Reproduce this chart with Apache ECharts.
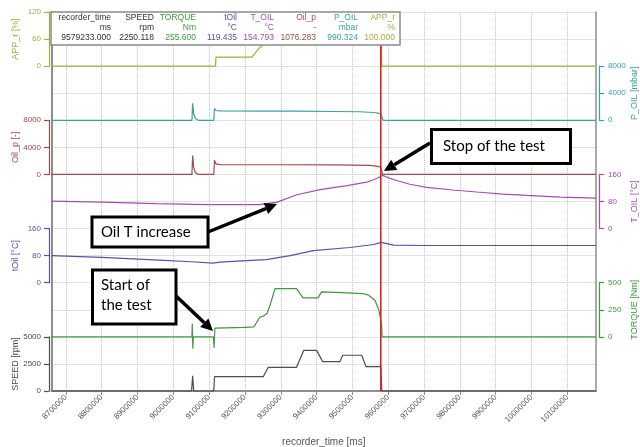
<!DOCTYPE html>
<html>
<head>
<meta charset="utf-8">
<script src="https://cdn.jsdelivr.net/npm/echarts@6/dist/echarts.min.js"></script>
<style>
  html, body { margin: 0; padding: 0; background: #fff; }
  #chart { width: 640px; height: 447px; }
</style>
</head>
<body>
<div id="chart"></div>
<script>
// recorder_time axis [ms]
const timeMin = 8660000;
const timeMax = 10180000;
const timeTicks = [8700000, 8800000, 8900000, 9000000, 9100000, 9200000, 9300000, 9400000,
  9500000, 9600000, 9700000, 9800000, 9900000, 10000000, 10100000];
const cursorTime = 9579233;

// Channel samples as [recorder_time ms, value]
const appR = [[8660000, 0], [9118000, 0], [9119000, 20], [9219000, 20], [9239000, 39], [9247000, 45],
  [9253000, 62], [9262000, 80], [9290000, 95], [9320000, 100], [9579233, 100], [9582000, 0], [10180000, 0]];

const pOil = [[8660000, 0], [9052000, 0], [9054000, 2500], [9057000, 900], [9062000, 250], [9070000, 0],
  [9113000, 0], [9115000, 1750], [9119000, 1450], [9130000, 1380], [9250000, 1360], [9350000, 1340],
  [9450000, 1300], [9520000, 1260], [9560000, 1150], [9579233, 990], [9583000, 400], [9586000, 0], [10180000, 0]];

const oilP = [[8660000, 0], [9052000, 0], [9054000, 2800], [9057000, 1000], [9062000, 250], [9070000, 0],
  [9113000, 0], [9115000, 2100], [9119000, 1550], [9130000, 1450], [9300000, 1430], [9450000, 1400],
  [9550000, 1340], [9570000, 1200], [9579233, 1076], [9582000, 500], [9584000, 0], [10180000, 0]];

const tOilUpper = [[8660000, 81], [8800000, 78], [8950000, 74], [9100000, 71], [9240000, 71], [9290000, 78],
  [9345000, 100], [9410000, 115], [9485000, 127], [9540000, 137], [9568000, 148], [9579233, 154.8],
  [9585000, 157], [9600000, 150], [9624000, 142], [9660000, 131], [9708000, 122], [9780000, 114],
  [9847000, 108], [9920000, 102], [9987000, 98], [10080000, 93], [10180000, 90]];

const tOil = [[8660000, 80], [8800000, 75], [8960000, 67], [9050000, 62], [9110000, 58], [9130000, 61],
  [9205000, 65], [9260000, 68], [9326000, 80], [9391000, 95], [9493000, 104], [9560000, 113],
  [9579233, 119.4], [9590000, 117], [9615000, 111], [9700000, 110], [10180000, 110]];

const torque = [[8660000, 0], [9052000, 0], [9053000, 120], [9054500, -110], [9056000, 0], [9112000, 0],
  [9114000, -100], [9116000, 80], [9120000, 85], [9200000, 88], [9225000, 92], [9242000, 183],
  [9252000, 192], [9262000, 218], [9270000, 292], [9284000, 446], [9344000, 446], [9362000, 360],
  [9404000, 360], [9414000, 415], [9470000, 408], [9529000, 400], [9545000, 385], [9563000, 338],
  [9574000, 245], [9579233, 255.6], [9581000, 120], [9583000, 0], [10180000, 0]];

const speed = [[8660000, 0], [9051000, 0], [9054000, 1400], [9057000, 0], [9113000, 0], [9115000, 1320],
  [9251000, 1320], [9265000, 2190], [9344000, 2190], [9364000, 3750], [9400000, 3750], [9417000, 2710],
  [9465000, 2710], [9473000, 3300], [9526000, 3300], [9538000, 2250], [9579233, 2250], [9582000, 0], [10180000, 0]];

// Axis ranges per channel (max, tick step)
const axisMax = [120, 8000, 8000, 160, 160, 500, 5000];
const axisStep = [60, 4000, 4000, 80, 80, 250, 2500];

// Cursor readout table
const readoutNames = ['recorder_time', 'SPEED', 'TORQUE', 'tOil', 'T_OIL', 'Oil_p', 'P_OIL', 'APP_r'];
const readoutUnits = ['ms', 'rpm', 'Nm', '°C', '°C', '-', 'mbar', '%'];
const readoutValues = ['9579233.000', '2250.118', '255.600', '119.435', '154.793', '1076.283', '990.324', '100.000'];

// ---- layout & styling ----
const W = 640, H = 447;
const plotTop = 12, plotBottom = 391, plotLeft = 51.5, plotRight = 596;
const bandH = (plotBottom - plotTop) / 7;
const FONT = "'Liberation Sans', Arial, sans-serif";
const gridColor = '#c4c4c4';
const frameColor = '#8e8e8e';
const plain = v => String(v);

// stacked channel bands, top to bottom
const channels = [
  { name: 'APP_r [%]',    data: appR,      color: '#a9a93e', side: 'left' },
  { name: 'P_OIL [mbar]', data: pOil,      color: '#3aa0a0', side: 'right' },
  { name: 'Oil_p [-]',    data: oilP,      color: '#a14a4a', side: 'left' },
  { name: 'T_OIL [°C]',   data: tOilUpper, color: '#a24fae', side: 'right' },
  { name: 'tOil [°C]',    data: tOil,      color: '#5454a4', side: 'left' },
  { name: 'TORQUE [Nm]',  data: torque,    color: '#3d9a3d', side: 'right' },
  { name: 'SPEED [rpm]',  data: speed,     color: '#4d4d4d', side: 'left' }
];

const grids = [{
  left: plotLeft, right: W - plotRight, top: plotTop, bottom: H - plotBottom,
  containLabel: false, outerBoundsMode: 'none'
}];
const xAxes = [{
  gridIndex: 0, type: 'value', min: timeMin, max: timeMax,
  name: 'recorder_time [ms]', nameLocation: 'middle', nameGap: 46, nameMoveOverlap: false,
  nameTextStyle: { color: '#555', fontSize: 10, fontFamily: FONT },
  axisLine: { show: true, onZero: false, lineStyle: { color: frameColor, width: 2 } },
  axisTick: { show: true, customValues: timeTicks, length: 4, lineStyle: { color: frameColor } },
  axisLabel: { customValues: timeTicks, formatter: plain, rotate: 45, margin: 5, color: '#555', fontSize: 8, fontFamily: FONT },
  splitLine: { show: true, lineStyle: { type: 'dotted', color: gridColor, width: 1 } }
}];
const yAxes = [
  {
    gridIndex: 0, type: 'value', min: 0, max: 14, interval: 1, position: 'left',
    axisLine: { show: true, lineStyle: { color: frameColor, width: 2 } },
    axisTick: { show: false }, axisLabel: { show: false },
    splitLine: { show: true, lineStyle: { type: 'dotted', color: gridColor, width: 1 } }
  },
  {
    gridIndex: 0, type: 'value', min: 0, max: 14, interval: 1, position: 'right',
    axisLine: { show: true, lineStyle: { color: frameColor, width: 1.5 } },
    axisTick: { show: false }, axisLabel: { show: false }, splitLine: { show: false }
  }
];
const series = [];

channels.forEach((ch, i) => {
  const top = plotTop + i * bandH;
  grids.push({
    left: plotLeft, right: W - plotRight, top: top, bottom: H - (top + bandH),
    containLabel: false, outerBoundsMode: 'none'
  });
  xAxes.push({ gridIndex: i + 1, type: 'value', min: timeMin, max: timeMax, show: false });
  const isLeft = ch.side === 'left';
  yAxes.push({
    gridIndex: i + 1, type: 'value', min: 0, max: axisMax[i], interval: axisStep[i],
    position: ch.side, offset: isLeft ? 2.5 : 3,
    name: ch.name, nameLocation: 'middle', nameRotate: 90, nameGap: isLeft ? 29 : 31,
    nameMoveOverlap: false,
    nameTextStyle: { color: ch.color, fontSize: 9, fontFamily: FONT },
    axisLine: { show: true, lineStyle: { color: ch.color, width: 1.2 } },
    axisTick: { show: true, length: 5, lineStyle: { color: ch.color, width: 1.2 } },
    axisLabel: { color: ch.color, fontSize: 8, fontFamily: FONT, margin: isLeft ? 8 : 9, formatter: plain },
    splitLine: { show: false }
  });
  series.push({
    type: 'line', name: ch.name, xAxisIndex: i + 1, yAxisIndex: i + 2,
    data: ch.data, symbol: 'none', showSymbol: false, clip: false, silent: true,
    lineStyle: { color: ch.color, width: 1.2 }, itemStyle: { color: ch.color }, z: 3
  });
});

// cursor line at the readout time
series.push({
  type: 'line', xAxisIndex: 0, yAxisIndex: 0, symbol: 'none', silent: true,
  data: [[cursorTime, 0], [cursorTime, 14]],
  lineStyle: { color: '#e02222', width: 1.6 }, z: 5
});

// ---- graphics: readout table and annotations ----
const readoutColors = ['#333', '#333', '#3d9a3d', '#5454a4', '#a24fae', '#a14a4a', '#3aa0a0', '#a9a93e'];
const readoutRight = [111, 154, 196, 237, 274, 316, 358, 395];
const rowY = [17.5, 27.5, 37.5];
const tableFont = 8.5;

const graphics = [{
  type: 'rect', z: 100,
  shape: { x: 51, y: 12, width: 349, height: 33 },
  style: { fill: '#fff', stroke: '#8a8a8a', lineWidth: 1.5 }
}];
[readoutNames, readoutUnits, readoutValues].forEach((row, r) => {
  row.forEach((txt, c) => {
    graphics.push({
      type: 'text', z: 101, x: readoutRight[c], y: rowY[r],
      style: { text: txt, fill: readoutColors[c], fontSize: tableFont, fontFamily: FONT,
               align: 'right', verticalAlign: 'middle' }
    });
  });
});

const NOTE_FONT = "Lato, 'Open Sans', sans-serif";
function noteBox(x, y, w, h, lines, tx, ty, lh) {
  const out = [{
    type: 'rect', z: 110, shape: { x: x, y: y, width: w, height: h },
    style: { fill: '#fff', stroke: '#000', lineWidth: 3 }
  }];
  lines.forEach((t, k) => out.push({
    type: 'text', z: 111, x: tx, y: ty + k * lh,
    style: { text: t, fill: '#000', fontSize: 15, fontFamily: NOTE_FONT, align: 'left', verticalAlign: 'middle' }
  }));
  return out;
}
function arrow(x1, y1, x2, y2) {
  const dx = x2 - x1, dy = y2 - y1, L = Math.hypot(dx, dy);
  const ux = dx / L, uy = dy / L, hl = 12, hw = 6;
  const bx = x2 - ux * hl, by = y2 - uy * hl;
  return [
    { type: 'line', z: 110, shape: { x1: x1, y1: y1, x2: bx, y2: by }, style: { stroke: '#000', lineWidth: 3.5 } },
    { type: 'polygon', z: 110, shape: { points: [[x2, y2], [bx - uy * hw, by + ux * hw], [bx + uy * hw, by - ux * hw]] },
      style: { fill: '#000' } }
  ];
}

graphics.push(...arrow(430, 143, 384, 171));
graphics.push(...noteBox(431.5, 129.5, 139, 34, ['Stop of the test'], 443, 146.5, 0));
graphics.push(...arrow(208, 232, 277, 204));
graphics.push(...noteBox(92, 217, 116, 30, ['Oil T increase'], 101, 232, 0));
graphics.push(...arrow(175, 295, 213, 331));
graphics.push(...noteBox(92.5, 270, 83.5, 54, ['Start of', 'the test'], 101, 285.5, 20));

const chart = echarts.init(document.getElementById('chart'), null, { renderer: 'canvas' });
chart.setOption({
  animation: false,
  backgroundColor: '#fff',
  grid: grids,
  xAxis: xAxes,
  yAxis: yAxes,
  series: series,
  graphic: graphics
});
</script>
</body>
</html>
